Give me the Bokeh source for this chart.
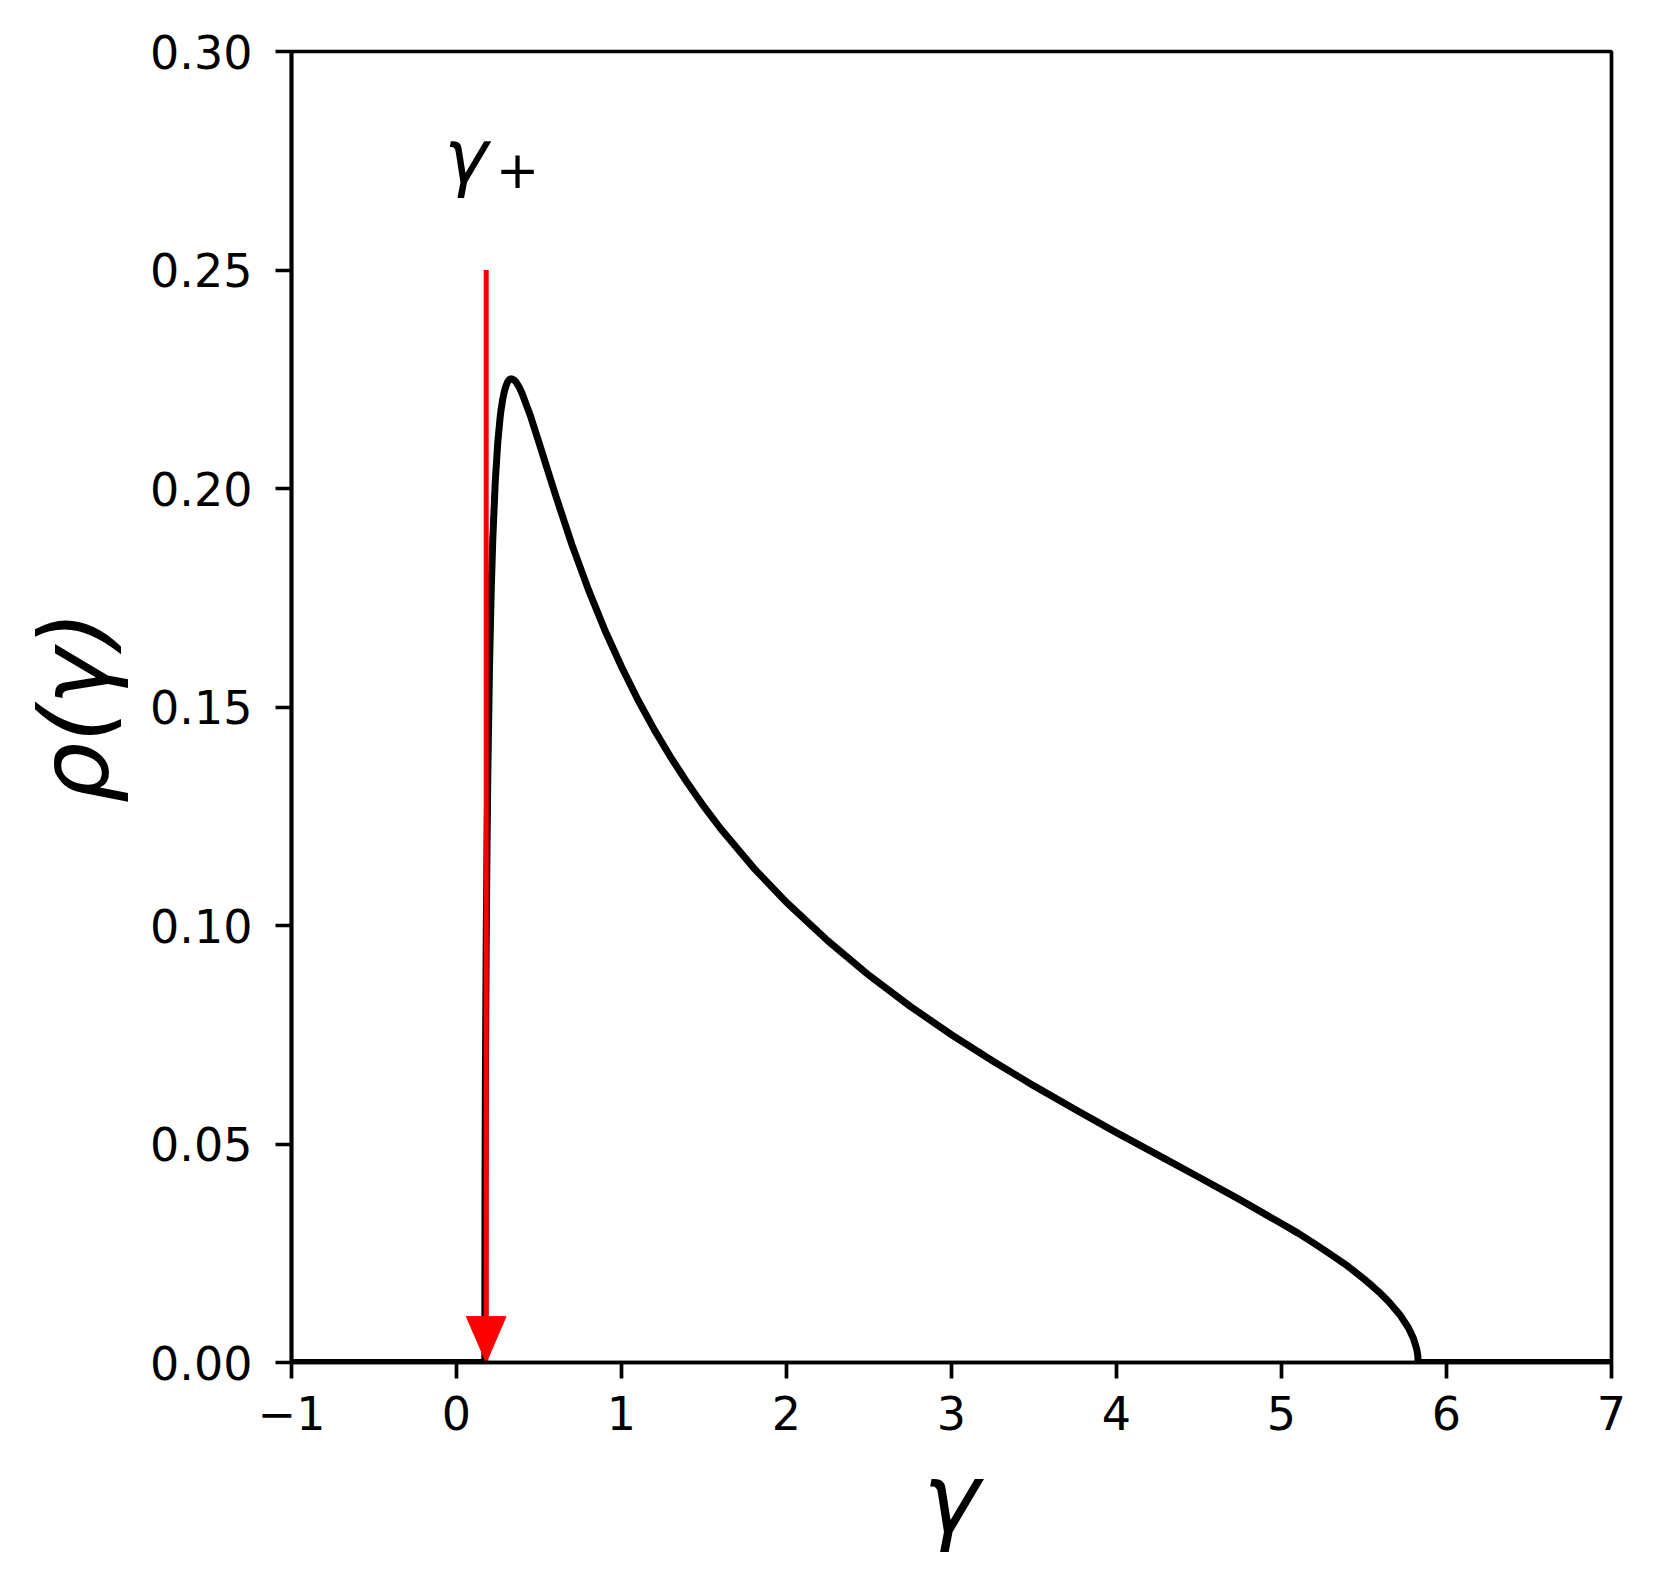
from bokeh.plotting import figure
from bokeh.models import Range1d, FixedTicker, Label
from bokeh.embed import file_html
from bokeh.resources import INLINE

# ---- data ----
gamma = [-1.0, 0.1716, 0.1725, 0.1735, 0.175, 0.18, 0.185, 0.19, 0.20, 0.21, 0.22,
         0.235, 0.25, 0.265, 0.27, 0.28, 0.29, 0.30, 0.31, 0.32, 0.33, 0.34, 0.35, 0.36,
         0.38, 0.40, 0.45, 0.50, 0.55, 0.60,
         0.70, 0.80, 0.90, 1.0, 1.1, 1.2, 1.3, 1.4, 1.5, 1.6, 1.8, 2.0, 2.25, 2.5,
         2.75, 3.0, 3.25, 3.5, 3.75, 4.0, 4.25, 4.5, 4.75, 5.0, 5.1, 5.2, 5.3, 5.4,
         5.5, 5.55, 5.6, 5.65, 5.72, 5.77, 5.80, 5.82, 5.826, 5.8284, 7.0]
rho = [0.0, 0.0, 0.0334, 0.0479, 0.0633, 0.0965, 0.1184, 0.1350, 0.1592, 0.1761, 0.1885,
       0.2017, 0.2105, 0.2165, 0.2180, 0.2204, 0.2222, 0.2235, 0.2244, 0.2249, 0.2251, 0.2250, 0.2248, 0.2244,
       0.2232, 0.2215, 0.2164, 0.2105, 0.2045, 0.1985,
       0.1871, 0.1768, 0.1675, 0.1592, 0.1516, 0.1447, 0.1384, 0.1326, 0.1272, 0.1222, 0.1132, 0.1053, 0.0965, 0.0886,
       0.0815, 0.0750, 0.0690, 0.0633, 0.0579, 0.0526, 0.0475, 0.0424, 0.0372, 0.0318, 0.0296, 0.0272, 0.0247, 0.0221,
       0.0191, 0.0175, 0.0158, 0.0139, 0.0108, 0.0079, 0.0055, 0.0030, 0.0016, 0.0, 0.0]

x_ticks = [-1, 0, 1, 2, 3, 4, 5, 6, 7]
x_tick_labels = ["\u22121", "0", "1", "2", "3", "4", "5", "6", "7"]
y_ticks = [0.0, 0.05, 0.10, 0.15, 0.20, 0.25, 0.30]
y_tick_labels = ["0.00", "0.05", "0.10", "0.15", "0.20", "0.25", "0.30"]

arrow_x = 0.18
arrow_top = 0.25
arrow_tip = 0.0
head_width = 0.24
head_length = 0.0105

label_main = "\u03b3"
label_sub = "+"
x_label = "\u03b3"
y_label = "\u03c1(\u03b3)"

# ---- figure ----
p = figure(frame_width=1320, frame_height=1311,
           x_range=Range1d(-1, 7), y_range=Range1d(0, 0.3),
           output_backend="svg", toolbar_location=None,
           min_border_left=291, min_border_top=51,
           min_border_right=33, min_border_bottom=209)

p.xgrid.visible = False
p.ygrid.visible = False
p.outline_line_color = "black"
p.outline_line_width = 3.7
p.outline_line_alpha = 1.0
p.background_fill_color = "white"
p.border_fill_color = "white"

for ax in (p.xaxis[0], p.yaxis[0]):
    ax.axis_line_width = 3.7
    ax.axis_line_color = "black"
    ax.major_tick_out = 16
    ax.major_tick_in = 0
    ax.major_tick_line_width = 3.7
    ax.major_tick_line_color = "black"
    ax.minor_tick_line_color = None
    ax.major_label_text_font = "DejaVu Sans"
    ax.major_label_text_font_size = "46px"
    ax.major_label_text_color = "black"
    ax.axis_label_text_font = "DejaVu Sans"
    ax.axis_label_text_font_style = "italic"
    ax.axis_label_text_font_size = "96px"
    ax.axis_label_text_color = "black"

p.xaxis.ticker = FixedTicker(ticks=x_ticks)
p.xaxis.major_label_overrides = {t: s for t, s in zip(x_ticks, x_tick_labels)}
p.yaxis.ticker = FixedTicker(ticks=y_ticks)
p.yaxis.major_label_overrides = {t: s for t, s in zip(y_ticks, y_tick_labels)}
p.xaxis.major_label_standoff = 17
p.yaxis.major_label_standoff = 23
p.xaxis.axis_label = x_label
p.yaxis.axis_label = y_label
p.xaxis.axis_label_standoff = 10
p.yaxis.axis_label_standoff = 16

# curve
p.line(gamma, rho, line_color="black", line_width=7, line_join="round")

# red arrow
p.segment(x0=[arrow_x], y0=[arrow_top], x1=[arrow_x], y1=[arrow_tip + head_length],
          line_color="red", line_width=5)
p.patch(x=[arrow_x - head_width / 2, arrow_x + head_width / 2, arrow_x],
        y=[arrow_tip + head_length, arrow_tip + head_length, arrow_tip],
        fill_color="red", line_color="red", line_width=1)

# gamma_+ annotation
p.add_layout(Label(x=-0.075, y=0.2762, text=label_main, text_font="DejaVu Sans",
                   text_font_style="italic", text_font_size="74px",
                   text_align="left", text_baseline="alphabetic", text_color="black"))
p.add_layout(Label(x=0.37, y=0.2730, text=label_sub, text_font="DejaVu Sans",
                   text_font_size="52px", text_align="center",
                   text_baseline="alphabetic", text_color="black"))

open("out.html", "w").write(file_html(p, INLINE))
